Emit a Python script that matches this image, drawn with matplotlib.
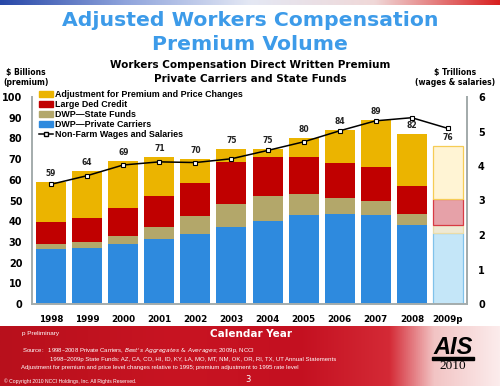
import numpy as np
import matplotlib.pyplot as plt
from matplotlib.colors import LinearSegmentedColormap
from matplotlib.patches import Patch
from matplotlib.lines import Line2D

# data ($ billions, stacked segments)
years = ['1998', '1999', '2000', '2001', '2002', '2003', '2004', '2005', '2006', '2007', '2008', '2009p']
private_dwp = [26.4, 27.2, 29.1, 31.3, 34.0, 37.2, 40.2, 43.0, 43.6, 43.1, 38.3, 34.2]
state_dwp = [2.6, 2.8, 3.6, 6.0, 8.5, 11.1, 12.0, 10.0, 7.6, 6.5, 5.3, 3.8]
large_ded = [10.8, 11.5, 13.8, 14.9, 15.8, 20.3, 18.7, 17.9, 17.1, 16.7, 13.4, 12.6]
adjustment = [19.2, 22.8, 22.5, 18.8, 11.7, 6.4, 4.1, 9.1, 15.7, 22.7, 25.0, 25.7]
# non-farm wages and salaries ($ trillions)
wages = [3.47, 3.72, 4.03, 4.12, 4.10, 4.21, 4.45, 4.70, 5.02, 5.31, 5.40, 5.09]

C_BLUE, C_OLIVE, C_RED, C_YEL = '#2e8ade', '#b3a76a', '#c00000', '#ebb400'
L_FACE = ['#c4e6f8', '#efe9d3', '#e6a1a8', '#fff4d4']
L_EDGE = ['#80c2ea', '#eadca8', '#d83a44', '#f6cc55']

W, H = 500, 386
fig = plt.figure(figsize=(5, 3.86), dpi=100)
fig.patch.set_facecolor('white')

def fx(px):
    return px / W

def fy(py):
    return 1 - py / H

# top gradient strip
strip = fig.add_axes([0, fy(5), 1, 5 / H])
cm_top = LinearSegmentedColormap.from_list('t', ['#2848a8', '#8fa4dc', '#e4e8f4', '#f0d8d8', '#d82020'])
strip.imshow(np.linspace(0, 1, 256)[None, :], aspect='auto', cmap=cm_top, extent=[0, 1, 0, 1])
strip.axis('off')

# bottom red banner
ban = fig.add_axes([0, 0, 1, fy(326)])
cm_bot = LinearSegmentedColormap.from_list('b', [(0, '#b8101c'), (0.35, '#c81422'), (0.6, '#c41020'),
                                                  (0.78, '#d42a36'), (0.87, '#f2c4c4'), (1, '#fcecec')])
ban.imshow(np.linspace(0, 1, 256)[None, :], aspect='auto', cmap=cm_bot, extent=[0, 1, 0, 1])
ban.axis('off')

# titles
fig.text(0.5, fy(21), 'Adjusted Workers Compensation', color='#3d9be9', fontsize=14.7,
         fontweight='bold', ha='center', va='center')
fig.text(0.5, fy(45), 'Premium Volume', color='#3d9be9', fontsize=14.7,
         fontweight='bold', ha='center', va='center')
fig.text(0.5, fy(65), 'Workers Compensation Direct Written Premium', fontsize=7.5,
         fontweight='bold', ha='center', va='center')
fig.text(0.5, fy(79), 'Private Carriers and State Funds', fontsize=7.5,
         fontweight='bold', ha='center', va='center')
fig.text(fx(26), fy(72.5), '$ Billions', fontsize=5.5, fontweight='bold', ha='center', va='center')
fig.text(fx(26), fy(82.5), '(premium)', fontsize=5.5, fontweight='bold', ha='center', va='center')
fig.text(fx(455), fy(72.5), '$ Trillions', fontsize=5.5, fontweight='bold', ha='center', va='center')
fig.text(fx(455), fy(82.5), '(wages & salaries)', fontsize=5.5, fontweight='bold', ha='center', va='center')

# main axes
ax = fig.add_axes([fx(32), fy(304), fx(467 - 32), (304 - 97) / H])
x = np.arange(len(years))
segs = [private_dwp, state_dwp, large_ded, adjustment]
cols = [C_BLUE, C_OLIVE, C_RED, C_YEL]
bottom = np.zeros(len(years))
for i, (s, c) in enumerate(zip(segs, cols)):
    s = np.array(s)
    fc = [c] * (len(years) - 1) + [L_FACE[i]]
    ec = ['none'] * (len(years) - 1) + [L_EDGE[i]]
    ax.bar(x, s, 0.83, bottom=bottom, color=fc, edgecolor=ec, linewidth=0.9)
    bottom += s

for xi, tot in zip(x, bottom):
    ax.text(xi, tot + 4.2, f'{tot:.0f}', ha='center', va='center', fontsize=5.5,
            fontweight='bold', color='#222222')

ax.set_xlim(-0.53, 11.53)
ax.set_ylim(0, 100)
ax.set_yticks(range(0, 101, 10))
ax.set_xticks(x)
ax.set_xticklabels(years)
ax.spines['top'].set_visible(False)
for sp in ['left', 'right', 'bottom']:
    ax.spines[sp].set_color('#a4acac')
    ax.spines[sp].set_linewidth(1.4)
ax.tick_params(axis='y', length=0, pad=7, labelsize=7)
ax.tick_params(axis='x', length=0, pad=8, labelsize=6.3)
for t in ax.get_yticklabels() + ax.get_xticklabels():
    t.set_fontweight('bold')

ax2 = ax.twinx()
ax2.plot(x, wages, color='black', lw=1.1, marker='s', ms=3.2, mfc='white', mec='black', mew=0.8)
ax2.set_ylim(0, 6)
ax2.set_yticks(range(0, 7))
ax2.tick_params(axis='y', length=0, pad=8, labelsize=7)
for t in ax2.get_yticklabels():
    t.set_fontweight('bold')
for sp in ['top', 'left', 'bottom']:
    ax2.spines[sp].set_visible(False)
ax2.spines['right'].set_color('#a4acac')
ax2.spines['right'].set_linewidth(1.4)

handles = [Patch(color=C_YEL), Patch(color=C_RED), Patch(color=C_OLIVE), Patch(color=C_BLUE),
           Line2D([], [], color='black', lw=1.1, marker='s', ms=3.2, mfc='white', mec='black')]
labels = ['Adjustment for Premium and Price Changes', 'Large Ded Credit', 'DWP\u2014State Funds',
          'DWP\u2014Private Carriers', 'Non-Farm Wages and Salaries']
leg = fig.legend(handles, labels, loc='upper left', bbox_to_anchor=(fx(39), fy(90)), frameon=False,
                 prop={'family': 'Liberation Sans', 'weight': 'bold', 'size': 6.4},
                 handlelength=1.55, handleheight=0.7, handletextpad=0.3, labelspacing=0.12,
                 borderpad=0, borderaxespad=0)

# banner texts
fig.text(fx(22), fy(334), 'p Preliminary', color='white', fontsize=4.6, family='Liberation Sans', va='center')
fig.text(fx(251), fy(334), 'Calendar Year', color='white', fontsize=7.5, fontweight='bold',
         ha='center', va='center')
fig.text(fx(22), fy(351), 'Source:   1998\u20132008 Private Carriers, $\\it{Best\'s\\ Aggregates\\ &\\ Averages}$; 2009p, NCCI',
         color='white', fontsize=4.3, family='Liberation Sans', va='center')
fig.text(fx(50), fy(359.5), '1998\u20132009p State Funds: AZ, CA, CO, HI, ID, KY, LA, MO, MT, NM, OK, OR, RI, TX, UT Annual Statements',
         color='white', fontsize=4.3, family='Liberation Sans', va='center')
fig.text(fx(21), fy(368), 'Adjustment for premium and price level changes relative to 1995; premium adjustment to 1995 rate level',
         color='white', fontsize=4.3, family='Liberation Sans', va='center')
fig.text(fx(4), fy(381), '\u00a9 Copyright 2010 NCCI Holdings, Inc. All Rights Reserved.', color='white',
         fontsize=3.6, family='Liberation Sans', va='center')
fig.text(fx(248), fy(380), '3', color='white', fontsize=6, ha='center', va='center')
fig.text(fx(453), fy(347), 'AIS', color='black', fontsize=17, fontweight='bold', style='italic',
         family='Liberation Sans', ha='center', va='center')
fig.add_artist(plt.Rectangle((fx(432), fy(360)), fx(42), 3 / H, color='black', transform=fig.transFigure))
fig.text(fx(453), fy(366), '2010', color='black', fontsize=9.5, family='Liberation Serif',
         ha='center', va='center')

fig.savefig('out.png', dpi=100)
